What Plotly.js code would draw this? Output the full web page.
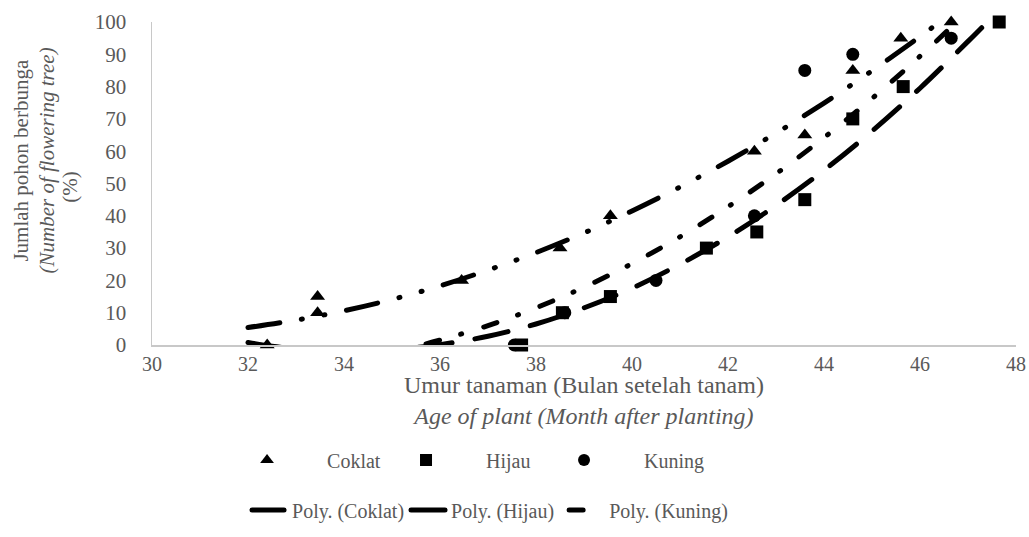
<!DOCTYPE html>
<html>
<head>
<meta charset="utf-8">
<script src="https://cdn.plot.ly/plotly-3.0.1.min.js"></script>
<style>
  html, body { margin: 0; padding: 0; background: #fff; }
  #chart { width: 1029px; height: 537px; }
  path.js-line { stroke-linecap: round; }
</style>
</head>
<body>
<div id="chart"></div>
<script>
// ---- observed points ----
const coklatX = [32.4, 33.45, 33.45, 36.45, 38.5, 39.55, 42.55, 43.6, 44.6, 45.6, 46.65];
const coklatY = [0, 15, 10, 20, 30, 40, 60, 65, 85, 95, 100];

const hijauX = [37.7, 38.55, 39.55, 41.55, 42.6, 43.6, 44.6, 45.65, 47.65];
const hijauY = [0, 10, 15, 30, 35, 45, 70, 80, 100];

const kuningX = [37.55, 38.6, 40.5, 42.55, 43.6, 44.6, 46.65];
const kuningY = [0, 10, 20, 40, 85, 90, 95];

// ---- polynomial trend lines ----
const polyCoklatX = [32, 33, 34, 35, 36, 37, 38, 39, 40, 41, 42, 43, 44, 45, 46, 46.45];
const polyCoklatY = [5.4, 7.7, 10.6, 14.1, 18.3, 23.2, 28.6, 34.7, 41.5, 48.9, 56.9, 65.6, 74.9, 84.9, 95.5, 100.5];

const polyHijauX = [32, 32.5, 33, 34, 35, 35.5, 36, 37, 38, 39, 40, 41, 42, 43, 44, 45, 46, 47, 47.4, 47.65];
const polyHijauY = [0.8, -0.4, -1.1, -1.7, -1.4, -0.8, 0.1, 2.7, 6.5, 11.5, 17.6, 25, 33.5, 43.2, 54.1, 66.2, 79.5, 94, 100, 104];

const polyKuningX = [32, 33, 34, 35, 35.5, 36, 37, 38, 39, 40, 41, 42, 43, 44, 45, 46, 46.65];
const polyKuningY = [-7, -6.3, -4.6, -2, -0.4, 1.5, 6, 11.5, 17.9, 25.2, 33.5, 42.8, 53, 64.2, 76.3, 89.4, 98.4];

// ---- axis ticks ----
const xTicks = [30, 32, 34, 36, 38, 40, 42, 44, 46, 48];
const yTicks = [0, 10, 20, 30, 40, 50, 60, 70, 80, 90, 100];

const FONT = "'Liberation Serif', 'Times New Roman', serif";
const GREY = '#595959';

const lineTrace = (x, y, name, dash, leg) => ({
  x, y, name, type: 'scatter', mode: 'lines',
  line: { color: '#000', width: 5, dash: dash, shape: 'spline', smoothing: 1 },
  legend: leg, hoverinfo: 'skip'
});
const markTrace = (x, y, name, symbol, leg) => ({
  x, y, name, type: 'scatter', mode: 'markers',
  marker: { color: '#000', size: 13, symbol: symbol },
  cliponaxis: false, legend: leg
});

const data = [
  lineTrace(polyCoklatX, polyCoklatY, 'Poly. (Coklat)', '32px,22px,1px,22px,1px,22px', 'legend4'),
  lineTrace(polyHijauX, polyHijauY, 'Poly. (Hijau)', '34px,23px', 'legend5'),
  lineTrace(polyKuningX, polyKuningY, 'Poly. (Kuning)', '14px,22px,1px,23px', 'legend6'),
  markTrace(coklatX, coklatY, 'Coklat', 'triangle-up', 'legend'),
  markTrace(hijauX, hijauY, 'Hijau', 'square', 'legend2'),
  markTrace(kuningX, kuningY, 'Kuning', 'circle', 'legend3')
];

const legendCommon = {
  orientation: 'h', xanchor: 'left', yanchor: 'middle',
  font: { family: FONT, size: 20, color: GREY },
  bgcolor: 'rgba(0,0,0,0)', itemsizing: 'constant'
};
const colX = [[0.0637, 0.2477, 0.4306], [0.11, 0.294, 0.477]];
const rowY = [-0.356, -0.511];
const rowItemWidth = [110, 35];
const leg = (c, r) => Object.assign({}, legendCommon, { x: colX[r][c], y: rowY[r], itemwidth: rowItemWidth[r] });

const titleFont = { family: FONT, size: 24, color: GREY };
const yTitleFont = { family: FONT, size: 21, color: GREY };

const layout = {
  width: 1029, height: 537,
  margin: { l: 152, r: 13, t: 22, b: 192, autoexpand: false },
  paper_bgcolor: '#fff', plot_bgcolor: '#fff',
  font: { family: FONT, size: 21, color: GREY },
  showlegend: true,
  xaxis: {
    range: [30, 48], tickvals: xTicks, ticktext: xTicks.map(String), automargin: false,
    showgrid: false, zeroline: false, showline: true, linecolor: '#C8C8C8', linewidth: 1.5,
    ticks: '', tickfont: { family: FONT, size: 20, color: GREY }
  },
  yaxis: {
    range: [0, 100], tickvals: yTicks, ticktext: yTicks.map(String), automargin: false,
    showgrid: false, zeroline: false, showline: true, linecolor: '#C8C8C8', linewidth: 1.5,
    ticks: '', ticklabelstandoff: 20, tickfont: { family: FONT, size: 21, color: GREY }
  },
  legend: leg(0, 0), legend2: leg(1, 0), legend3: leg(2, 0),
  legend4: leg(0, 1), legend5: leg(1, 1), legend6: leg(2, 1),
  annotations: [
    { text: 'Umur tanaman (Bulan setelah tanam)<br><i>Age of plant (Month after planting)</i>',
      xref: 'paper', yref: 'paper', x: 0.5, y: -0.172,
      showarrow: false, xanchor: 'center', yanchor: 'middle', align: 'center', font: titleFont },
    { text: 'Jumlah pohon berbunga', xref: 'paper', yref: 'paper', x: -0.152, y: 0.57,
      textangle: -90, showarrow: false, xanchor: 'center', yanchor: 'middle', font: yTitleFont },
    { text: '<i>(Number of flowering tree)</i>', xref: 'paper', yref: 'paper', x: -0.122, y: 0.57,
      textangle: -90, showarrow: false, xanchor: 'center', yanchor: 'middle', font: yTitleFont },
    { text: '(%)', xref: 'paper', yref: 'paper', x: -0.095, y: 0.49,
      textangle: -90, showarrow: false, xanchor: 'center', yanchor: 'middle', font: yTitleFont }
  ]
};

Plotly.newPlot('chart', data, layout, { staticPlot: true, displayModeBar: false });
</script>
</body>
</html>
